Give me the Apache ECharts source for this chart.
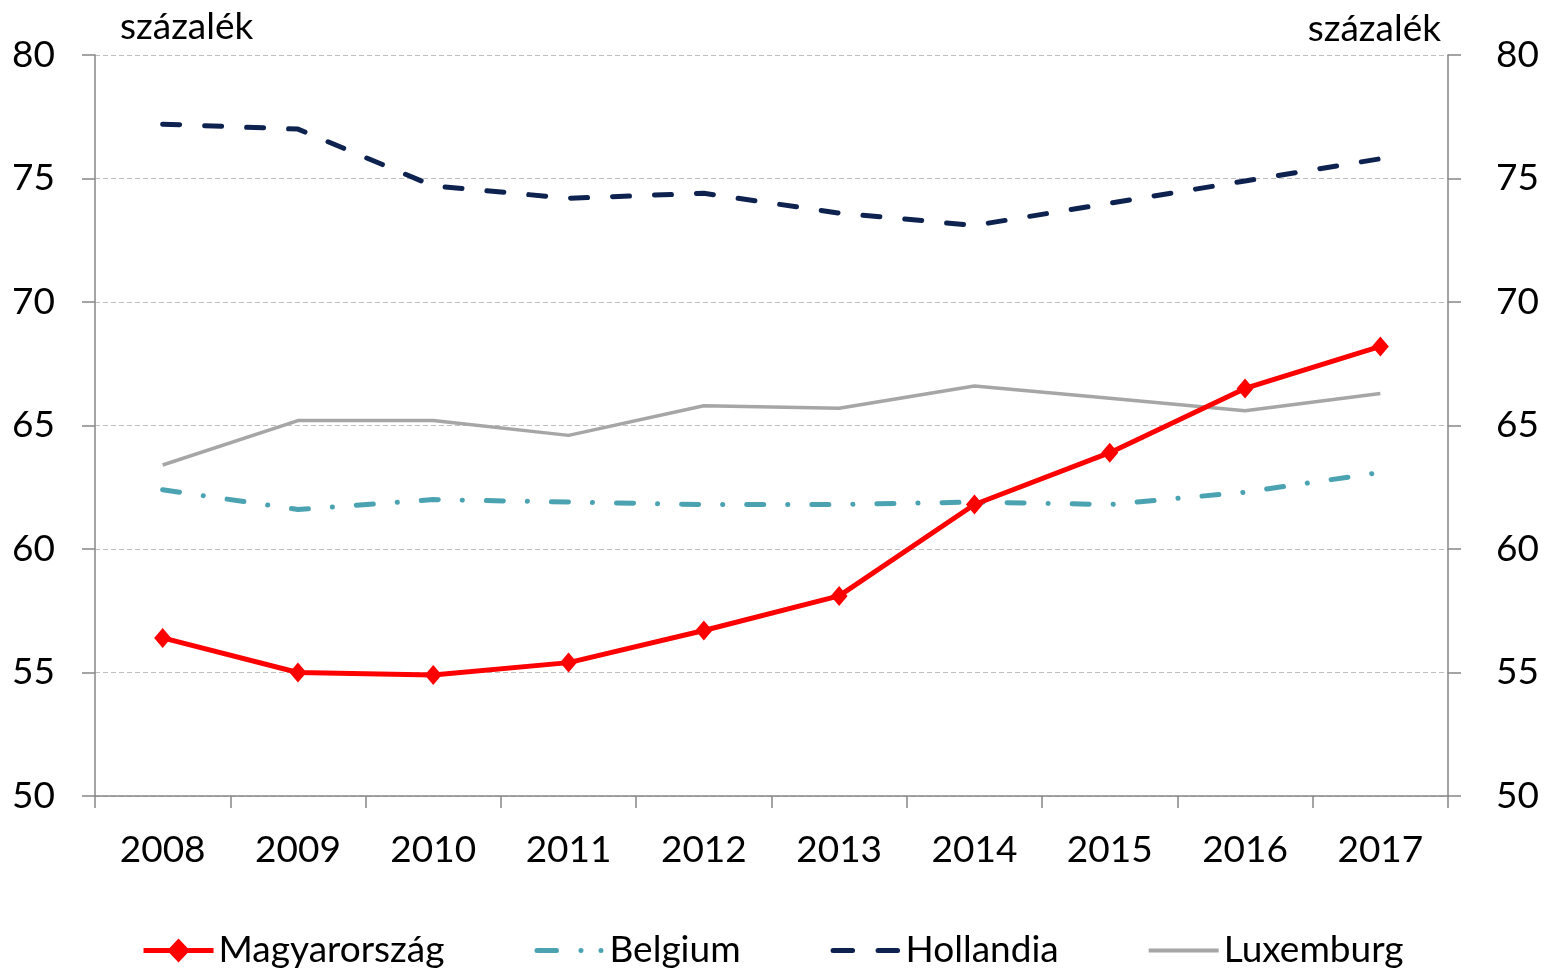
<!DOCTYPE html>
<html>
<head>
<meta charset="utf-8">
<script src="https://cdn.jsdelivr.net/npm/echarts@6/dist/echarts.min.js"></script>
<style>
  html, body { margin: 0; padding: 0; background: #fff; }
  #main { width: 1547px; height: 971px; }
</style>
</head>
<body>
<div id="main"></div>
<script>
// évek
const years = ['2008', '2009', '2010', '2011', '2012', '2013', '2014', '2015', '2016', '2017'];
// sorozatok (százalék)
const magyarorszag = [56.4, 55.0, 54.9, 55.4, 56.7, 58.1, 61.8, 63.9, 66.5, 68.2];
const belgium = [62.4, 61.6, 62.0, 61.9, 61.8, 61.8, 61.9, 61.8, 62.3, 63.1];
const hollandia = [77.2, 77.0, 74.7, 74.2, 74.4, 73.6, 73.1, 74.0, 74.9, 75.8];
const luxemburg = [63.4, 65.2, 65.2, 64.6, 65.8, 65.7, 66.6, 66.1, 65.6, 66.3];
const yMin = 50, yMax = 80, yStep = 5;

const font = 'Lato, "Open Sans", sans-serif';
const fs = 37;
const axisGray = '#868686';

// jelmagyarázat ikonok (70 x 24 doboz, a sarokpontok a méretezés miatt)
const box = 'M0 0 L0 0 M70 24 L70 24 ';
const iconMagyar = 'path://' + box + 'M0 9.5 H26 L35 0 L44 9.5 H70 V14.5 H44 L35 24 L26 14.5 H0 Z';
const iconBelgium = 'path://' + box + 'M2.5 9.5 H22 A2.5 2.5 0 0 1 22 14.5 H2.5 A2.5 2.5 0 0 1 2.5 9.5 Z ' +
  'M44 12 A2.5 2.5 0 1 1 49 12 A2.5 2.5 0 1 1 44 12 Z M64 12 A2.5 2.5 0 1 1 69 12 A2.5 2.5 0 1 1 64 12 Z';
const iconHollandia = 'path://' + box + 'M2.5 9.5 H22 A2.5 2.5 0 0 1 22 14.5 H2.5 A2.5 2.5 0 0 1 2.5 9.5 Z ' +
  'M47.5 9.5 H67 A2.5 2.5 0 0 1 67 14.5 H47.5 A2.5 2.5 0 0 1 47.5 9.5 Z';
const iconLux = 'path://' + box + 'M0 10 H70 V14 H0 Z';

const chart = echarts.init(document.getElementById('main'));
const yAxisBase = {
  type: 'value',
  min: yMin,
  max: yMax,
  interval: yStep,
  axisLine: { show: true, lineStyle: { color: axisGray, width: 1.5 } },
  axisTick: { show: true, length: 13, lineStyle: { color: axisGray, width: 1.5 } },
  axisLabel: { color: '#000', fontSize: fs, fontFamily: font }
};

chart.setOption({
  animation: false,
  grid: { left: 95, right: 99, top: 55, bottom: 175 },
  graphic: [
    { type: 'text', left: 120, top: 9, style: { text: 'százalék', fontSize: fs, fontFamily: font, fill: '#000' } },
    { type: 'text', right: 106, top: 11, style: { text: 'százalék', fontSize: fs, fontFamily: font, fill: '#000' } }
  ],
  legend: {
    top: 927,
    left: 'center',
    itemWidth: 70,
    itemHeight: 24,
    itemGap: 90,
    textStyle: { color: '#000', fontSize: fs, fontFamily: font },
    data: [
      { name: 'Magyarország', icon: iconMagyar },
      { name: 'Belgium', icon: iconBelgium },
      { name: 'Hollandia', icon: iconHollandia },
      { name: 'Luxemburg', icon: iconLux }
    ]
  },
  xAxis: {
    type: 'category',
    data: years,
    boundaryGap: true,
    axisLine: { lineStyle: { color: axisGray, width: 1.5 } },
    axisTick: { show: true, length: 12, alignWithLabel: false, lineStyle: { color: axisGray, width: 1.5 } },
    axisLabel: { color: '#000', fontSize: fs, fontFamily: font, margin: 36 }
  },
  yAxis: [
    Object.assign({}, yAxisBase, {
      position: 'left',
      axisLabel: Object.assign({}, yAxisBase.axisLabel, { margin: 40 }),
      splitLine: { show: true, lineStyle: { color: '#BFBFBF', type: [5, 3], width: 1.2 } }
    }),
    Object.assign({}, yAxisBase, {
      position: 'right',
      axisLabel: Object.assign({}, yAxisBase.axisLabel, { margin: 48 }),
      splitLine: { show: false }
    })
  ],
  series: [
    {
      name: 'Luxemburg',
      type: 'line',
      data: luxemburg,
      symbol: 'none',
      z: 2,
      itemStyle: { color: '#A6A6A6' },
      lineStyle: { color: '#A6A6A6', width: 3.5 }
    },
    {
      name: 'Belgium',
      type: 'line',
      data: belgium,
      symbol: 'none',
      z: 3,
      itemStyle: { color: '#4BA3B2' },
      lineStyle: { color: '#4BA3B2', width: 5, type: [17, 24, 0.1, 24], cap: 'round', join: 'round' }
    },
    {
      name: 'Hollandia',
      type: 'line',
      data: hollandia,
      symbol: 'none',
      z: 3,
      itemStyle: { color: '#0E2250' },
      lineStyle: { color: '#0E2250', width: 5, type: [17, 25], cap: 'round', join: 'round' }
    },
    {
      name: 'Magyarország',
      type: 'line',
      data: magyarorszag,
      symbol: 'diamond',
      symbolSize: [17, 20],
      z: 4,
      itemStyle: { color: '#FF0000' },
      lineStyle: { color: '#FF0000', width: 5 }
    }
  ]
});
</script>
</body>
</html>
